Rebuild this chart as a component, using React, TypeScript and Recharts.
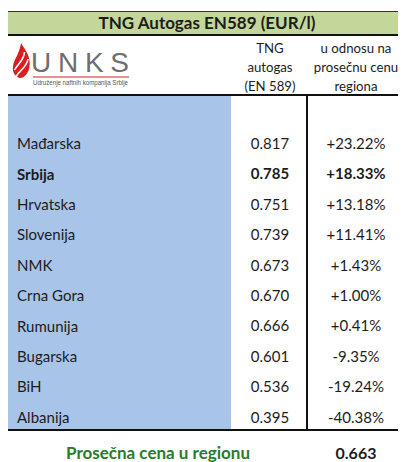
import { Bar, BarChart, LabelList, XAxis, YAxis } from 'recharts';

const countries = ['Mađarska', 'Srbija', 'Hrvatska', 'Slovenija', 'NMK', 'Crna Gora', 'Rumunija', 'Bugarska', 'BiH', 'Albanija'];
const prices = [0.817, 0.785, 0.751, 0.739, 0.673, 0.67, 0.666, 0.601, 0.536, 0.395];
const diffs = [23.22, 18.33, 13.18, 11.41, 1.43, 1.0, 0.41, -9.35, -19.24, -40.38];
const highlight = 'Srbija';
const average = 0.663;

const title = 'TNG Autogas EN589 (EUR/l)';
const priceHeader = ['TNG', 'autogas', '(EN 589)'];
const diffHeader = ['u odnosu na', 'prosečnu cenu', 'regiona'];
const averageLabel = 'Prosečna cena u regionu';

const rows = countries.map((country, i) => ({ country, price: prices[i], diff: diffs[i] }));

const FONT = 'Lato, "Open Sans", sans-serif';
const TEXT = '#1c1c1c';
const BLUE = '#a9c4e9';
const PRICE_X = 262;
const DIFF_X = 348;

const fmtDiff = (v: number) => (v > 0 ? '+' : '') + v.toFixed(2) + '%';

function CountryTick(props: any) {
  const { y, payload } = props;
  const bold = payload.value === highlight;
  return (
    <text x={9} y={y} dominantBaseline="central" fontFamily={FONT} fontSize={15} fontWeight={bold ? 700 : 400} fill={TEXT}>
      {payload.value}
    </text>
  );
}

function cellLabel(cx: number, format: (v: number) => string) {
  return (props: any) => {
    const { y, height, value, index } = props;
    const bold = rows[index].country === highlight;
    return (
      <text x={cx} y={y + height / 2} textAnchor="middle" dominantBaseline="central" fontFamily={FONT} fontSize={15} fontWeight={bold ? 700 : 400} fill={TEXT}>
        {format(value)}
      </text>
    );
  };
}

function Logo() {
  return (
    <svg width={140} height={56} style={{ position: 'absolute', left: 0, top: 30 }}>
      <g transform="translate(4,5)">
        <path d="M9,0 C14,8 19,14 17.5,24 C16.5,30 12.5,35 8,35 C3,34 0,29 1,23 C2,16 7,12 9,0 Z" fill="#d81e1e" />
        <path d="M2.5,27 C6,20 12,18 12.5,9" stroke="#fff" strokeWidth={1.6} fill="none" />
        <path d="M4,33.5 C8,27 15,24 16,16" stroke="#fff" strokeWidth={1.6} fill="none" />
      </g>
      <text x={23} y={34} fontFamily='"Liberation Sans", Arial, sans-serif' fontSize={28} fill="#6e6e6e" textLength={98} lengthAdjust="spacing">
        UNKS
      </text>
      <line x1={25} x2={121} y1={39} y2={39} stroke="#d81e1e" strokeWidth={1.2} />
      <text x={25} y={47} fontFamily='"Liberation Sans Narrow", "Liberation Sans", sans-serif' fontSize={6.5} fill="#555" textLength={95} lengthAdjust="spacingAndGlyphs">
        Udruženje naftnih kompanija Srbije
      </text>
    </svg>
  );
}

export default function App() {
  const headerLine = (text: string, cx: number, i: number) => (
    <div key={text} style={{ position: 'absolute', left: cx - 60, width: 120, top: 31 + i * 19, textAlign: 'center', fontSize: 13.2, lineHeight: '19px', color: TEXT }}>
      {text}
    </div>
  );
  return (
    <div style={{ position: 'relative', width: 398, height: 454, fontFamily: FONT, background: '#fff' }}>
      <div style={{ position: 'absolute', left: 0, top: 3, width: 398, height: 22, background: '#c4d79b', borderTop: '1px solid #333', borderBottom: '2px solid #111', textAlign: 'center', fontWeight: 700, fontSize: 17, lineHeight: '22px', color: TEXT }}>
        {title}
      </div>
      <Logo />
      {priceHeader.map((t, i) => headerLine(t, PRICE_X, i))}
      {diffHeader.map((t, i) => headerLine(t, DIFF_X, i))}
      <div style={{ position: 'absolute', left: 0, top: 86, width: 398, height: 2, background: '#111' }} />
      <div style={{ position: 'absolute', left: 0, top: 88, width: 223, height: 333, background: BLUE }} />
      <div style={{ position: 'absolute', left: 298, top: 88, width: 1.5, height: 333, background: '#111' }} />
      <div style={{ position: 'absolute', left: 0, top: 421, width: 398, height: 2, background: '#111' }} />
      <div style={{ position: 'absolute', left: 0, top: 0 }}>
        <BarChart width={398} height={454} data={rows} layout="vertical" margin={{ top: 120, right: 0, bottom: 30, left: 0 }}>
          <XAxis type="number" domain={[0, 1]} hide />
          <YAxis type="category" dataKey="country" width={223} axisLine={false} tickLine={false} tick={<CountryTick />} interval={0} />
          <Bar dataKey="price" fill="transparent" isAnimationActive={false}>
            <LabelList dataKey="price" content={cellLabel(PRICE_X, (v) => v.toFixed(3))} />
            <LabelList dataKey="diff" content={cellLabel(DIFF_X, fmtDiff)} />
          </Bar>
        </BarChart>
      </div>
      <div style={{ position: 'absolute', left: 35, width: 230, top: 434, textAlign: 'center', fontWeight: 700, fontSize: 17, lineHeight: '22px', color: '#2a7b2a' }}>
        {averageLabel}
      </div>
      <div style={{ position: 'absolute', left: DIFF_X - 40, width: 80, top: 434, textAlign: 'center', fontWeight: 700, fontSize: 16, lineHeight: '22px', color: TEXT }}>
        {average.toFixed(3)}
      </div>
    </div>
  );
}
